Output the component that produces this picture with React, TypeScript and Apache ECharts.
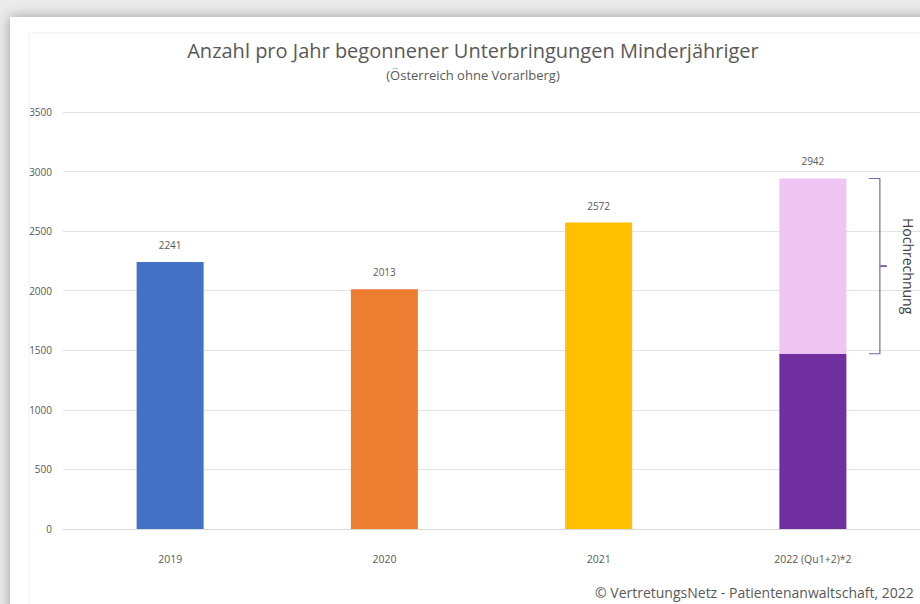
import React, { useEffect, useRef } from "react";
import * as echarts from "echarts";

const categories = ["2019", "2020", "2021", "2022 (Qu1+2)*2"];
const measuredValues = [2241, 2013, 2572, 1471];
const projectionValues = [null, null, null, 1471];
const totalLabels = ["2241", "2013", "2572", "2942"];
const barColors = ["#4472C4", "#ED7D31", "#FFC000", "#7030A0"];
const projectionColor = "#EFC6F3";
const yTicks = { min: 0, max: 3500, interval: 500 };

const FONT = "'Open Sans', 'Noto Sans', sans-serif";
const TXT = "#595959";

export default function App() {
  const ref = useRef<HTMLDivElement>(null);
  useEffect(() => {
    if (!ref.current) return;
    const chart = echarts.init(ref.current, null, { renderer: "svg" });
    const option: any = {
      animation: false,
      backgroundColor: "#ececec",
      textStyle: { fontFamily: FONT },
      grid: { left: 63, right: 0, top: 112, bottom: 75, containLabel: false },
      xAxis: {
        type: "category",
        data: categories,
        axisLine: { show: true, lineStyle: { color: "#d9d9d9", width: 1 } },
        axisTick: { show: false },
        axisLabel: { color: TXT, fontSize: 10.5, margin: 24, fontFamily: FONT },
      },
      yAxis: {
        type: "value",
        min: yTicks.min,
        max: yTicks.max,
        interval: yTicks.interval,
        axisLine: { show: false },
        axisTick: { show: false },
        splitLine: { lineStyle: { color: "#e3e3e3", width: 1 } },
        axisLabel: {
          color: TXT,
          fontSize: 10,
          margin: 11,
          fontFamily: FONT,
          formatter: (v: number) => String(v),
        },
      },
      series: [
        {
          type: "bar",
          stack: "total",
          barWidth: 67,
          data: measuredValues.map((v, i) => ({
            value: v,
            itemStyle: { color: barColors[i] },
            label: {
              show: i < 3,
              position: "top",
              distance: 12,
              formatter: totalLabels[i],
              color: TXT,
              fontSize: 10,
              fontFamily: FONT,
            },
          })),
        },
        {
          type: "bar",
          stack: "total",
          barWidth: 67,
          data: projectionValues.map((v, i) => ({
            value: v,
            itemStyle: { color: projectionColor },
            label: {
              show: v != null,
              position: "top",
              distance: 12,
              formatter: totalLabels[i],
              color: TXT,
              fontSize: 10,
              fontFamily: FONT,
            },
          })),
        },
      ],
    };
    chart.setOption(option);

    const idx = 3;
    const topY = chart.convertToPixel({ yAxisIndex: 0 }, measuredValues[idx] + (projectionValues[idx] as number));
    const botY = chart.convertToPixel({ yAxisIndex: 0 }, measuredValues[idx]);
    const barX = chart.convertToPixel({ xAxisIndex: 0 }, idx) as number;
    const bx = barX + 67;
    const midY = (topY + botY) / 2;

    chart.setOption({
      graphic: [
        {
          type: "rect",
          z: -10,
          zlevel: 0,
          silent: true,
          shape: { x: 10, y: 17, width: 940, height: 620 },
          style: { fill: "#ffffff", shadowBlur: 14, shadowColor: "rgba(0,0,0,0.35)" },
        },
        {
          type: "rect",
          z: -9,
          silent: true,
          shape: { x: 29, y: 33, width: 920, height: 600 },
          style: { fill: "none", stroke: "#f1f1f1", lineWidth: 1 },
        },
        {
          type: "text",
          x: 473,
          y: 50,
          style: {
            text: "Anzahl pro Jahr begonnener Unterbringungen Minderjähriger",
            fill: TXT,
            fontSize: 20,
            fontFamily: FONT,
            textAlign: "center",
            textVerticalAlign: "middle",
          },
        },
        {
          type: "text",
          x: 473,
          y: 75,
          style: {
            text: "(Österreich ohne Vorarlberg)",
            fill: TXT,
            fontSize: 13,
            fontFamily: FONT,
            textAlign: "center",
            textVerticalAlign: "middle",
          },
        },
        {
          type: "polyline",
          shape: {
            points: [
              [bx - 11, topY],
              [bx, topY],
              [bx, botY],
              [bx - 11, botY],
            ],
          },
          style: { stroke: "#7E65A8", lineWidth: 1.2, fill: "none" },
        },
        {
          type: "line",
          shape: { x1: bx, y1: midY, x2: bx + 7, y2: midY },
          style: { stroke: "#7E65A8", lineWidth: 2 },
        },
        {
          type: "text",
          x: bx + 29,
          y: midY,
          rotation: -Math.PI / 2,
          style: {
            text: "Hochrechnung",
            fill: "#404040",
            fontSize: 14,
            fontFamily: FONT,
            textAlign: "center",
            textVerticalAlign: "middle",
          },
        },
        {
          type: "text",
          x: 595,
          y: 592,
          style: {
            text: "© VertretungsNetz - Patientenanwaltschaft, 2022",
            fill: TXT,
            fontSize: 14,
            fontFamily: FONT,
            textAlign: "left",
            textVerticalAlign: "middle",
          },
        },
      ],
    });

    return () => chart.dispose();
  }, []);
  return (
    <div
      ref={ref}
      style={{ position: "fixed", left: 0, top: 0, width: 920, height: 604 }}
    />
  );
}
